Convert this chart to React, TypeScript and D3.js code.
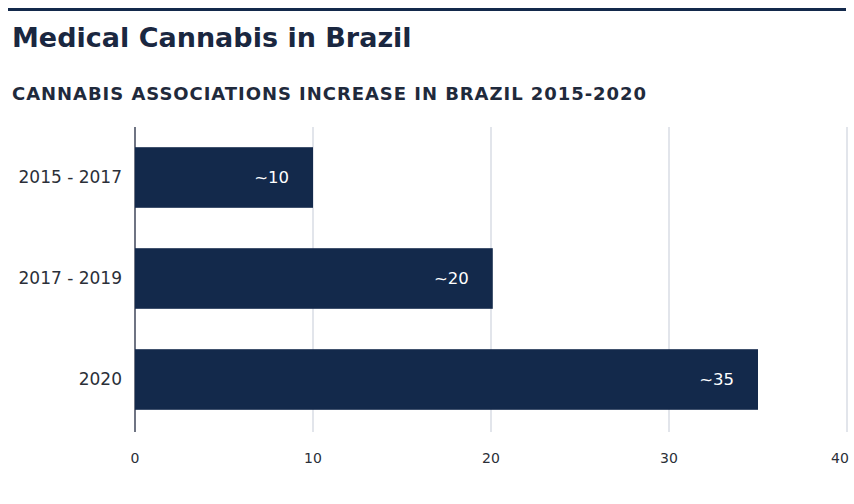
import React from "react";
import * as d3 from "d3";

const categories = ["2015 - 2017", "2017 - 2019", "2020"];
const values = [10, 20.1, 35];
const valueLabels = ["~10", "~20", "~35"];
const xTicks = [0, 10, 20, 30, 40];

const W = 854;
const H = 504;
const NAVY = "#13294b";
const FONT = "'DejaVu Sans', 'Liberation Sans', Arial, sans-serif";

export default function App() {
  const x = d3.scaleLinear().domain([0, 40]).range([135, 847]);
  const y = d3
    .scaleBand<string>()
    .domain(categories)
    .range([127, 430])
    .paddingInner(0.4)
    .paddingOuter(0.2);

  return (
    <svg
      width={W}
      height={H}
      style={{ position: "absolute", left: 0, top: 0, background: "#fff" }}
      fontFamily={FONT}
    >
      <rect x={0} y={0} width={W} height={H} fill="#fff" />
      <rect x={8} y={8} width={838} height={3} fill={NAVY} />
      <text x={12} y={47} fontSize={27} fontWeight={700} fill="#1a2740" letterSpacing={0}>
        Medical Cannabis in Brazil
      </text>
      <text x={12} y={100} fontSize={18} fontWeight={700} fill="#1f2a3c" letterSpacing={0.95}>
        CANNABIS ASSOCIATIONS INCREASE IN BRAZIL 2015-2020
      </text>

      {xTicks.slice(1).map((t) => (
        <line key={t} x1={x(t)} x2={x(t)} y1={127} y2={432} stroke="#d9dde4" strokeWidth={1.5} />
      ))}
      <line x1={x(0)} x2={x(0)} y1={127} y2={432} stroke="#6f7483" strokeWidth={2} />

      {categories.map((c, i) => (
        <g key={c}>
          <rect x={x(0)} y={y(c)} width={x(values[i]) - x(0)} height={y.bandwidth()} fill={NAVY} />
          <text
            x={x(values[i]) - 24}
            y={(y(c) as number) + y.bandwidth() / 2}
            dy="0.35em"
            textAnchor="end"
            fontSize={16.5}
            fill="#fff"
          >
            {valueLabels[i]}
          </text>
          <text
            x={122}
            y={(y(c) as number) + y.bandwidth() / 2}
            dy="0.35em"
            textAnchor="end"
            fontSize={17}
            fill="#2b2f38"
          >
            {c}
          </text>
        </g>
      ))}

      {xTicks.map((t) => (
        <text
          key={t}
          x={Math.min(x(t), W - 14)}
          y={458}
          dy="0.35em"
          textAnchor="middle"
          fontSize={14}
          fill="#2b2f38"
        >
          {t}
        </text>
      ))}
    </svg>
  );
}
